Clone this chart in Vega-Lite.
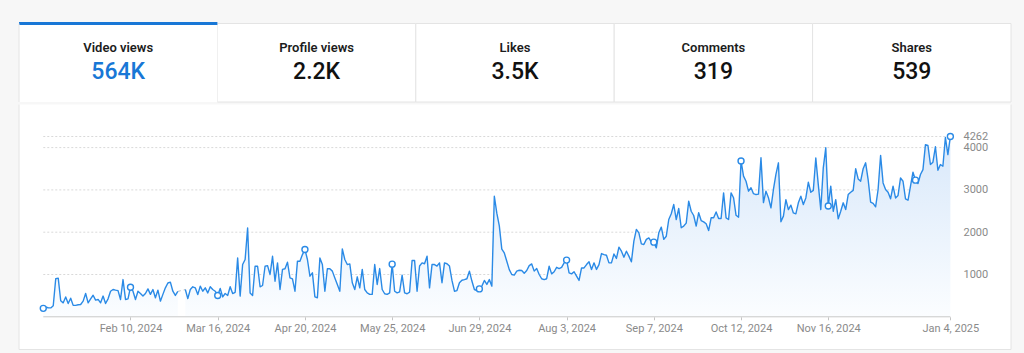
{
  "$schema": "https://vega.github.io/schema/vega-lite/v6.json",
  "background": "#f7f7f7",
  "padding": {"left": 17, "top": 21.5, "right": 15, "bottom": 8},
  "spacing": 0,
  "config": {
    "view": {"stroke": null},
    "font": "Roboto",
    "text": {"font": "Roboto"},
    "axis": {"labelFont": "Roboto"}
  },
  "datasets": {
    "tabs": [
      {"tab": "Video views", "value": "564K", "active": true},
      {"tab": "Profile views", "value": "2.2K", "active": false},
      {"tab": "Likes", "value": "3.5K", "active": false},
      {"tab": "Comments", "value": "319", "active": false},
      {"tab": "Shares", "value": "539", "active": false}
    ],
    "views": [
      {"date":"2024-01-06","views":200},{"date":"2024-01-07","views":225},{"date":"2024-01-08","views":215},{"date":"2024-01-09","views":210},{"date":"2024-01-10","views":260},{"date":"2024-01-11","views":900},{"date":"2024-01-12","views":915},{"date":"2024-01-13","views":380},{"date":"2024-01-14","views":330},{"date":"2024-01-15","views":470},{"date":"2024-01-16","views":315},{"date":"2024-01-17","views":440},{"date":"2024-01-18","views":270},{"date":"2024-01-19","views":270},{"date":"2024-01-20","views":285},{"date":"2024-01-21","views":290},{"date":"2024-01-22","views":370},{"date":"2024-01-23","views":550},{"date":"2024-01-24","views":330},{"date":"2024-01-25","views":425},{"date":"2024-01-26","views":510},{"date":"2024-01-27","views":395},{"date":"2024-01-28","views":410},{"date":"2024-01-29","views":330},{"date":"2024-01-30","views":490},{"date":"2024-01-31","views":315},
      {"date":"2024-02-01","views":425},{"date":"2024-02-02","views":605},{"date":"2024-02-03","views":645},{"date":"2024-02-04","views":630},{"date":"2024-02-05","views":620},{"date":"2024-02-06","views":410},{"date":"2024-02-07","views":880},{"date":"2024-02-08","views":410},{"date":"2024-02-09","views":425},{"date":"2024-02-10","views":700},{"date":"2024-02-11","views":605},{"date":"2024-02-12","views":410},{"date":"2024-02-13","views":605},{"date":"2024-02-14","views":550},{"date":"2024-02-15","views":490},{"date":"2024-02-16","views":550},{"date":"2024-02-17","views":660},{"date":"2024-02-18","views":530},{"date":"2024-02-19","views":645},{"date":"2024-02-20","views":450},{"date":"2024-02-21","views":630},{"date":"2024-02-22","views":370},{"date":"2024-02-23","views":530},{"date":"2024-02-24","views":685},{"date":"2024-02-25","views":800},{"date":"2024-02-26","views":820},{"date":"2024-02-27","views":605},{"date":"2024-02-28","views":505},{"date":"2024-02-29","views":600},
      {"date":"2024-03-01","views":null},{"date":"2024-03-02","views":null},{"date":"2024-03-03","views":645},{"date":"2024-03-04","views":430},{"date":"2024-03-05","views":645},{"date":"2024-03-06","views":710},{"date":"2024-03-07","views":685},{"date":"2024-03-08","views":525},{"date":"2024-03-09","views":725},{"date":"2024-03-10","views":605},{"date":"2024-03-11","views":685},{"date":"2024-03-12","views":565},{"date":"2024-03-13","views":710},{"date":"2024-03-14","views":645},{"date":"2024-03-15","views":605},{"date":"2024-03-16","views":505},{"date":"2024-03-17","views":670},{"date":"2024-03-18","views":470},{"date":"2024-03-19","views":550},{"date":"2024-03-20","views":505},{"date":"2024-03-21","views":710},{"date":"2024-03-22","views":550},{"date":"2024-03-23","views":580},{"date":"2024-03-24","views":1390},{"date":"2024-03-25","views":490},{"date":"2024-03-26","views":1235},{"date":"2024-03-27","views":1355},{"date":"2024-03-28","views":2100},{"date":"2024-03-29","views":565},{"date":"2024-03-30","views":505},{"date":"2024-03-31","views":1195},
      {"date":"2024-04-01","views":1195},{"date":"2024-04-02","views":710},{"date":"2024-04-03","views":740},{"date":"2024-04-04","views":1195},{"date":"2024-04-05","views":1210},{"date":"2024-04-06","views":1000},{"date":"2024-04-07","views":1430},{"date":"2024-04-08","views":840},{"date":"2024-04-09","views":1275},{"date":"2024-04-10","views":645},{"date":"2024-04-11","views":1120},{"date":"2024-04-12","views":1135},{"date":"2024-04-13","views":1290},{"date":"2024-04-14","views":920},{"date":"2024-04-15","views":895},{"date":"2024-04-16","views":605},{"date":"2024-04-17","views":1315},{"date":"2024-04-18","views":1315},{"date":"2024-04-19","views":1470},{"date":"2024-04-20","views":1590},{"date":"2024-04-21","views":1355},{"date":"2024-04-22","views":960},{"date":"2024-04-23","views":1040},{"date":"2024-04-24","views":470},{"date":"2024-04-25","views":450},{"date":"2024-04-26","views":1390},{"date":"2024-04-27","views":1235},{"date":"2024-04-28","views":605},{"date":"2024-04-29","views":1135},{"date":"2024-04-30","views":1135},
      {"date":"2024-05-01","views":1080},{"date":"2024-05-02","views":920},{"date":"2024-05-03","views":765},{"date":"2024-05-04","views":605},{"date":"2024-05-05","views":1605},{"date":"2024-05-06","views":1355},{"date":"2024-05-07","views":1235},{"date":"2024-05-08","views":1250},{"date":"2024-05-09","views":805},{"date":"2024-05-10","views":645},{"date":"2024-05-11","views":945},{"date":"2024-05-12","views":685},{"date":"2024-05-13","views":1120},{"date":"2024-05-14","views":645},{"date":"2024-05-15","views":565},{"date":"2024-05-16","views":530},{"date":"2024-05-17","views":530},{"date":"2024-05-18","views":1235},{"date":"2024-05-19","views":765},{"date":"2024-05-20","views":1140},{"date":"2024-05-21","views":645},{"date":"2024-05-22","views":545},{"date":"2024-05-23","views":530},{"date":"2024-05-24","views":565},{"date":"2024-05-25","views":1245},{"date":"2024-05-26","views":605},{"date":"2024-05-27","views":565},{"date":"2024-05-28","views":590},{"date":"2024-05-29","views":985},{"date":"2024-05-30","views":565},{"date":"2024-05-31","views":545},
      {"date":"2024-06-01","views":585},{"date":"2024-06-02","views":1330},{"date":"2024-06-03","views":1330},{"date":"2024-06-04","views":605},{"date":"2024-06-05","views":1200},{"date":"2024-06-06","views":1275},{"date":"2024-06-07","views":1255},{"date":"2024-06-08","views":1435},{"date":"2024-06-09","views":685},{"date":"2024-06-10","views":1235},{"date":"2024-06-11","views":1235},{"date":"2024-06-12","views":1200},{"date":"2024-06-13","views":1275},{"date":"2024-06-14","views":805},{"date":"2024-06-15","views":1275},{"date":"2024-06-16","views":1255},{"date":"2024-06-17","views":1200},{"date":"2024-06-18","views":860},{"date":"2024-06-19","views":605},{"date":"2024-06-20","views":620},{"date":"2024-06-21","views":805},{"date":"2024-06-22","views":865},{"date":"2024-06-23","views":880},{"date":"2024-06-24","views":900},{"date":"2024-06-25","views":1080},{"date":"2024-06-26","views":845},{"date":"2024-06-27","views":645},{"date":"2024-06-28","views":620},{"date":"2024-06-29","views":660},{"date":"2024-06-30","views":725},
      {"date":"2024-07-01","views":860},{"date":"2024-07-02","views":765},{"date":"2024-07-03","views":880},{"date":"2024-07-04","views":725},{"date":"2024-07-05","views":2850},{"date":"2024-07-06","views":2450},{"date":"2024-07-07","views":2150},{"date":"2024-07-08","views":1600},{"date":"2024-07-09","views":1510},{"date":"2024-07-10","views":1315},{"date":"2024-07-11","views":1115},{"date":"2024-07-12","views":1000},{"date":"2024-07-13","views":985},{"date":"2024-07-14","views":1080},{"date":"2024-07-15","views":1100},{"date":"2024-07-16","views":1095},{"date":"2024-07-17","views":1030},{"date":"2024-07-18","views":1095},{"date":"2024-07-19","views":1210},{"date":"2024-07-20","views":1250},{"date":"2024-07-21","views":1080},{"date":"2024-07-22","views":1140},{"date":"2024-07-23","views":1000},{"date":"2024-07-24","views":900},{"date":"2024-07-25","views":880},{"date":"2024-07-26","views":900},{"date":"2024-07-27","views":1195},{"date":"2024-07-28","views":1015},{"date":"2024-07-29","views":1065},{"date":"2024-07-30","views":1170},{"date":"2024-07-31","views":1140},
      {"date":"2024-08-01","views":1170},{"date":"2024-08-02","views":1275},{"date":"2024-08-03","views":1340},{"date":"2024-08-04","views":1040},{"date":"2024-08-05","views":1015},{"date":"2024-08-06","views":1065},{"date":"2024-08-07","views":960},{"date":"2024-08-08","views":860},{"date":"2024-08-09","views":1155},{"date":"2024-08-10","views":1155},{"date":"2024-08-11","views":1235},{"date":"2024-08-12","views":1300},{"date":"2024-08-13","views":1120},{"date":"2024-08-14","views":1275},{"date":"2024-08-15","views":1120},{"date":"2024-08-16","views":1235},{"date":"2024-08-17","views":1495},{"date":"2024-08-18","views":1470},{"date":"2024-08-19","views":1455},{"date":"2024-08-20","views":1275},{"date":"2024-08-21","views":1275},{"date":"2024-08-22","views":1485},{"date":"2024-08-23","views":1380},{"date":"2024-08-24","views":1645},{"date":"2024-08-25","views":1550},{"date":"2024-08-26","views":1410},{"date":"2024-08-27","views":1550},{"date":"2024-08-28","views":1435},{"date":"2024-08-29","views":1300},{"date":"2024-08-30","views":1790},{"date":"2024-08-31","views":2065},
      {"date":"2024-09-01","views":1985},{"date":"2024-09-02","views":1725},{"date":"2024-09-03","views":1710},{"date":"2024-09-04","views":1830},{"date":"2024-09-05","views":1865},{"date":"2024-09-06","views":1770},{"date":"2024-09-07","views":1765},{"date":"2024-09-08","views":1630},{"date":"2024-09-09","views":1985},{"date":"2024-09-10","views":2120},{"date":"2024-09-11","views":1830},{"date":"2024-09-12","views":1905},{"date":"2024-09-13","views":2300},{"date":"2024-09-14","views":2435},{"date":"2024-09-15","views":2655},{"date":"2024-09-16","views":2300},{"date":"2024-09-17","views":2560},{"date":"2024-09-18","views":2105},{"date":"2024-09-19","views":2145},{"date":"2024-09-20","views":2215},{"date":"2024-09-21","views":2735},{"date":"2024-09-22","views":2495},{"date":"2024-09-23","views":2395},{"date":"2024-09-24","views":2145},{"date":"2024-09-25","views":2460},{"date":"2024-09-26","views":2275},{"date":"2024-09-27","views":2245},{"date":"2024-09-28","views":2200},{"date":"2024-09-29","views":2040},{"date":"2024-09-30","views":2340},
      {"date":"2024-10-01","views":2340},{"date":"2024-10-02","views":2480},{"date":"2024-10-03","views":2325},{"date":"2024-10-04","views":2325},{"date":"2024-10-05","views":2930},{"date":"2024-10-06","views":2340},{"date":"2024-10-07","views":2300},{"date":"2024-10-08","views":2930},{"date":"2024-10-09","views":2815},{"date":"2024-10-10","views":2400},{"date":"2024-10-11","views":2355},{"date":"2024-10-12","views":3685},{"date":"2024-10-13","views":3325},{"date":"2024-10-14","views":3205},{"date":"2024-10-15","views":2970},{"date":"2024-10-16","views":3050},{"date":"2024-10-17","views":2910},{"date":"2024-10-18","views":2890},{"date":"2024-10-19","views":2900},{"date":"2024-10-20","views":3760},{"date":"2024-10-21","views":2700},{"date":"2024-10-22","views":2970},{"date":"2024-10-23","views":2815},{"date":"2024-10-24","views":2575},{"date":"2024-10-25","views":3010},{"date":"2024-10-26","views":3365},{"date":"2024-10-27","views":3640},{"date":"2024-10-28","views":2245},{"date":"2024-10-29","views":2380},{"date":"2024-10-30","views":2770},{"date":"2024-10-31","views":2535},
      {"date":"2024-11-01","views":2640},{"date":"2024-11-02","views":2455},{"date":"2024-11-03","views":2435},{"date":"2024-11-04","views":2695},{"date":"2024-11-05","views":2850},{"date":"2024-11-06","views":2655},{"date":"2024-11-07","views":2810},{"date":"2024-11-08","views":3180},{"date":"2024-11-09","views":2945},{"date":"2024-11-10","views":2990},{"date":"2024-11-11","views":3755},{"date":"2024-11-12","views":3125},{"date":"2024-11-13","views":2535},{"date":"2024-11-14","views":3520},{"date":"2024-11-15","views":3995},{"date":"2024-11-16","views":2620},{"date":"2024-11-17","views":3090},{"date":"2024-11-18","views":2495},{"date":"2024-11-19","views":2770},{"date":"2024-11-20","views":2315},{"date":"2024-11-21","views":2495},{"date":"2024-11-22","views":2695},{"date":"2024-11-23","views":2535},{"date":"2024-11-24","views":2890},{"date":"2024-11-25","views":2945},{"date":"2024-11-26","views":2990},{"date":"2024-11-27","views":3500},{"date":"2024-11-28","views":3260},{"date":"2024-11-29","views":3205},{"date":"2024-11-30","views":3500},
      {"date":"2024-12-01","views":3640},{"date":"2024-12-02","views":3245},{"date":"2024-12-03","views":2710},{"date":"2024-12-04","views":2680},{"date":"2024-12-05","views":2600},{"date":"2024-12-06","views":3010},{"date":"2024-12-07","views":3815},{"date":"2024-12-08","views":3165},{"date":"2024-12-09","views":3010},{"date":"2024-12-10","views":2945},{"date":"2024-12-11","views":2790},{"date":"2024-12-12","views":3090},{"date":"2024-12-13","views":2810},{"date":"2024-12-14","views":2870},{"date":"2024-12-15","views":3285},{"date":"2024-12-16","views":3205},{"date":"2024-12-17","views":2790},{"date":"2024-12-18","views":2755},{"date":"2024-12-19","views":3090},{"date":"2024-12-20","views":3420},{"date":"2024-12-21","views":3230},{"date":"2024-12-22","views":3150},{"date":"2024-12-23","views":3365},{"date":"2024-12-24","views":3480},{"date":"2024-12-25","views":4070},{"date":"2024-12-26","views":4050},{"date":"2024-12-27","views":3600},{"date":"2024-12-28","views":3655},{"date":"2024-12-29","views":4020},{"date":"2024-12-30","views":3465},{"date":"2024-12-31","views":3600},
      {"date":"2025-01-01","views":3560},{"date":"2025-01-02","views":4240},{"date":"2025-01-03","views":3835},{"date":"2025-01-04","views":4262}
    ]
  },
  "vconcat": [
    {
      "width": 992,
      "height": 78.5,
      "data": {"name": "tabs"},
      "encoding": {
        "x": {"field": "tab", "type": "nominal", "sort": null, "scale": {"domain": ["Video views", "Profile views", "Likes", "Comments", "Shares"], "paddingInner": 0, "paddingOuter": 0}, "axis": null}
      },
      "layer": [
        {
          "transform": [{"filter": "!datum.active"}],
          "mark": {"type": "bar", "fill": "white", "stroke": "#e4e4e4", "strokeWidth": 1}
        },
        {
          "transform": [{"filter": "datum.active"}],
          "mark": {"type": "bar", "fill": "white", "stroke": "#1877d6", "strokeWidth": 3, "strokeDash": [198.4, 3000], "strokeCap": "butt"}
        },
        {
          "transform": [{"filter": "datum.active"}],
          "mark": {"type": "rule", "stroke": "#e4e4e4", "strokeWidth": 1},
          "encoding": {"x": {"field": "tab", "type": "nominal", "sort": null, "bandPosition": 0}}
        },
        {
          "mark": {"type": "text", "baseline": "middle", "align": "center", "dy": -14.5, "fontSize": 13, "fontWeight": 600, "color": "#1c1c1c"},
          "encoding": {"text": {"field": "tab"}}
        },
        {
          "mark": {"type": "text", "baseline": "middle", "align": "center", "dy": 9, "fontSize": 23, "fontWeight": 500},
          "encoding": {
            "text": {"field": "value"},
            "color": {"condition": {"test": "datum.active", "value": "#1877d6"}, "value": "#111111"}
          }
        }
      ]
    },
    {
      "width": 992,
      "height": 245,
      "view": {"fill": "white", "stroke": null},
      "layer": [
        {
          "data": {"values": [{"g": 1000}, {"g": 2000}, {"g": 3000}, {"g": 4000}, {"g": 4262}]},
          "mark": {"type": "rule", "stroke": "#d9d9d9", "strokeWidth": 1, "strokeDash": [2, 2]},
          "encoding": {
            "y": {
              "field": "g", "type": "quantitative",
              "scale": {"domain": [-773, 5019], "nice": false, "zero": false},
              "axis": {"orient": "right", "offset": -61, "values": [1000, 2000, 3000, 4000, 4262], "format": "d", "domain": false, "ticks": false, "tickSize": 0, "grid": false, "labelPadding": 13, "labelColor": "#8a8a8a", "labelFontSize": 11, "labelOverlap": false, "labelAlign": "left", "labelBaseline": "middle", "title": null}
            },
            "x": {"datum": {"year": 2024, "month": 1, "date": 6, "utc": true}, "type": "temporal",
              "scale": {"type": "utc", "nice": false, "domain": [{"year": 2023, "month": 12, "date": 27, "hours": 6, "minutes": 14, "utc": true}, {"year": 2025, "month": 1, "date": 28, "hours": 7, "minutes": 55, "utc": true}]},
              "axis": {"orient": "bottom", "offset": -32.7, "values": [
                {"year": 2024, "month": 2, "date": 10, "utc": true},
                {"year": 2024, "month": 3, "date": 16, "utc": true},
                {"year": 2024, "month": 4, "date": 20, "utc": true},
                {"year": 2024, "month": 5, "date": 25, "utc": true},
                {"year": 2024, "month": 6, "date": 29, "utc": true},
                {"year": 2024, "month": 8, "date": 3, "utc": true},
                {"year": 2024, "month": 9, "date": 7, "utc": true},
                {"year": 2024, "month": 10, "date": 12, "utc": true},
                {"year": 2024, "month": 11, "date": 16, "utc": true},
                {"year": 2025, "month": 1, "date": 4, "utc": true}
              ], "format": "%b %-d, %Y", "domain": false, "grid": false, "tickSize": 3, "tickColor": "#c4c4c4", "labelPadding": 3, "labelColor": "#8a8a8a", "labelFontSize": 11, "labelOverlap": false, "labelBaseline": "top", "title": null}
            },
            "x2": {"datum": {"year": 2025, "month": 1, "date": 4, "utc": true}}
          }
        },
        {
          "data": {"name": "views"},
          "mark": {"type": "area", "invalid": "break-paths-show-path-domains", "line": false,
            "color": {"gradient": "linear", "x1": 0, "y1": 0, "x2": 0, "y2": 1, "stops": [{"offset": 0, "color": "#d8e8fa"}, {"offset": 1, "color": "#fbfdff"}]}},
          "encoding": {
            "x": {"field": "date", "type": "temporal"},
            "y": {"field": "views", "type": "quantitative"},
            "y2": {"datum": 0}
          }
        },
        {
          "data": {"values": [{"d": 0}]},
          "mark": {"type": "rule", "stroke": "#c8c8c8", "strokeWidth": 1},
          "encoding": {
            "x": {"datum": {"year": 2024, "month": 1, "date": 6, "utc": true}, "type": "temporal"},
            "x2": {"datum": {"year": 2025, "month": 1, "date": 4, "utc": true}},
            "y": {"datum": 0, "type": "quantitative"}
          }
        },
        {
          "data": {"name": "views"},
          "transform": [{"window": [{"op": "row_number", "as": "rn"}]}, {"filter": "datum.rn == 55 || datum.rn == 58"}],
          "mark": {"type": "line", "stroke": "#bdbdbd", "strokeWidth": 1, "strokeDash": [3, 3]},
          "encoding": {
            "x": {"field": "date", "type": "temporal"},
            "y": {"field": "views", "type": "quantitative"}
          }
        },
        {
          "data": {"name": "views"},
          "mark": {"type": "line", "invalid": "break-paths-show-path-domains", "stroke": "#2a8ae6", "strokeWidth": 1.4, "strokeJoin": "round"},
          "encoding": {
            "x": {"field": "date", "type": "temporal"},
            "y": {"field": "views", "type": "quantitative"}
          }
        },
        {
          "data": {"name": "views"},
          "transform": [{"window": [{"op": "row_number", "as": "rn"}]}, {"filter": "(datum.rn - 1) % 35 == 0 || datum.rn == 365"}],
          "mark": {"type": "point", "shape": "circle", "filled": true, "fill": "white", "stroke": "#2a8ae6", "strokeWidth": 1.4, "size": 36, "opacity": 1},
          "encoding": {
            "x": {"field": "date", "type": "temporal"},
            "y": {"field": "views", "type": "quantitative"}
          }
        },
        {
          "data": {"values": [{"d": 0}]},
          "mark": {"type": "rule", "stroke": "#e4e4e4", "strokeWidth": 1},
          "encoding": {"x": {"datum": {"year": 2023, "month": 12, "date": 27, "hours": 6, "minutes": 14, "utc": true}, "type": "temporal"}}
        },
        {
          "data": {"values": [{"d": 0}]},
          "mark": {"type": "rule", "stroke": "#e4e4e4", "strokeWidth": 1},
          "encoding": {"x": {"datum": {"year": 2025, "month": 1, "date": 28, "hours": 7, "minutes": 55, "utc": true}, "type": "temporal"}}
        },
        {
          "data": {"values": [{"d": 0}]},
          "mark": {"type": "rule", "stroke": "#e4e4e4", "strokeWidth": 1},
          "encoding": {"y": {"datum": -773, "type": "quantitative"}}
        }
      ]
    }
  ]
}
